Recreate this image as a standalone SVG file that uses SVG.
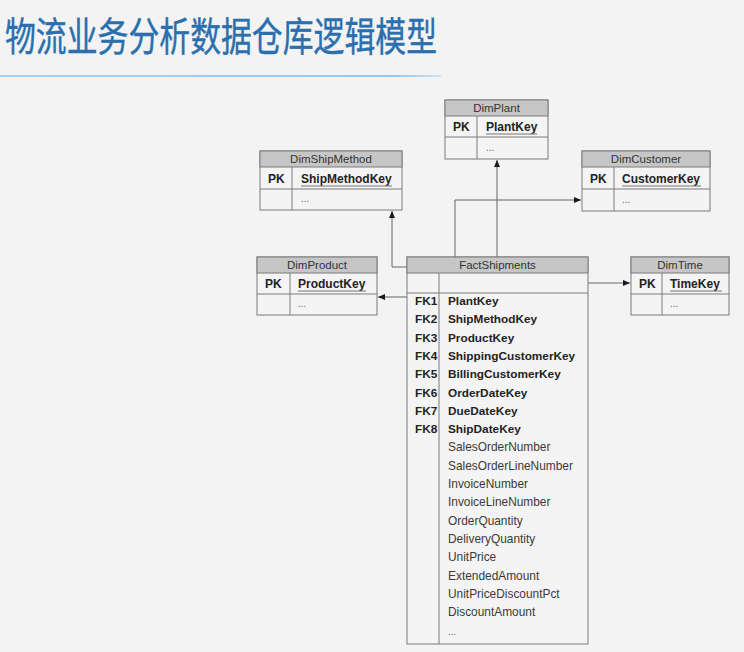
<svg xmlns="http://www.w3.org/2000/svg" width="744" height="652" viewBox="0 0 744 652">
<defs>
<linearGradient id="ul" x1="0" y1="0" x2="1" y2="0">
<stop offset="0" stop-color="#a9d0f0"/>
<stop offset="0.9" stop-color="#9ac6ec"/>
<stop offset="1" stop-color="#cfe3f5"/>
</linearGradient>
<marker id="arr" markerWidth="8" markerHeight="8" refX="7" refY="4" orient="auto" markerUnits="userSpaceOnUse">
<path d="M0,1 L7,4 L0,7 z" fill="#1a1a1a"/>
</marker>
</defs>
<style>
.box{fill:#f4f4f4;stroke:#7a7a7a;stroke-width:1}
.hdr{fill:#c6c6c6;stroke:#7a7a7a;stroke-width:1}
.ln{stroke:#7a7a7a;stroke-width:1;fill:none}
.ht{font-family:"Liberation Sans",Arial,sans-serif;font-size:11.5px;fill:#333;text-anchor:middle}
.pk{font-family:"Liberation Sans",Arial,sans-serif;font-size:12px;font-weight:bold;fill:#222}
.dots{font-family:"Liberation Sans",Arial,sans-serif;font-size:10px;fill:#666}
.fk{font-family:"Liberation Sans",Arial,sans-serif;font-size:11.8px;font-weight:bold;fill:#222}
.fd{font-family:"Liberation Sans",Arial,sans-serif;font-size:11.9px;fill:#3a3a3a}
.ul{stroke:#777;stroke-width:1}
.con{stroke:#666;stroke-width:1;fill:none}
</style>
<rect x="0" y="0" width="744" height="652" fill="#f3f3f3"/>
<g id="title">
<text x="5" y="51" font-family="'Noto Sans CJK SC',sans-serif" font-size="40" fill="#2a6fae" stroke="#2a6fae" stroke-width="0.4" textLength="432" lengthAdjust="spacingAndGlyphs">物流业务分析数据仓库逻辑模型</text>
<rect x="0" y="75" width="441" height="2" fill="url(#ul)"/>
</g>
<g id="connectors">
<path class="con" d="M497,257 L497,160" marker-end="url(#arr)"/>
<path class="con" d="M455,257 L455,200 L581,200" marker-end="url(#arr)"/>
<path class="con" d="M407,267 L392,267 L392,211" marker-end="url(#arr)"/>
<path class="con" d="M407,297 L378,297" marker-end="url(#arr)"/>
<path class="con" d="M588,283 L630,283" marker-end="url(#arr)"/>
</g>
<g id="DimPlant">
<rect class="box" x="445" y="100" width="103" height="59"/>
<rect class="hdr" x="445" y="100" width="103" height="16"/>
<line class="ln" x1="445" y1="137" x2="548" y2="137"/>
<line class="ln" x1="477" y1="116" x2="477" y2="159"/>
<text class="ht" x="496.5" y="112">DimPlant</text>
<text class="pk" x="453" y="131">PK</text>
<text class="pk" x="486" y="131">PlantKey</text>
<line class="ul" x1="486" y1="134" x2="537" y2="134"/>
<text class="dots" x="486" y="151">...</text>
</g>
<g id="DimShipMethod">
<rect class="box" x="260" y="151" width="142" height="59"/>
<rect class="hdr" x="260" y="151" width="142" height="16"/>
<line class="ln" x1="260" y1="189" x2="402" y2="189"/>
<line class="ln" x1="292" y1="167" x2="292" y2="210"/>
<text class="ht" x="331" y="163">DimShipMethod</text>
<text class="pk" x="268" y="183">PK</text>
<text class="pk" x="301" y="183">ShipMethodKey</text>
<line class="ul" x1="301" y1="186" x2="392" y2="186"/>
<text class="dots" x="301" y="202">...</text>
</g>
<g id="DimCustomer">
<rect class="box" x="582" y="151" width="128" height="60"/>
<rect class="hdr" x="582" y="151" width="128" height="16"/>
<line class="ln" x1="582" y1="189" x2="710" y2="189"/>
<line class="ln" x1="614" y1="167" x2="614" y2="211"/>
<text class="ht" x="646" y="163">DimCustomer</text>
<text class="pk" x="590" y="183">PK</text>
<text class="pk" x="622" y="183">CustomerKey</text>
<line class="ul" x1="622" y1="186" x2="701" y2="186"/>
<text class="dots" x="622" y="203">...</text>
</g>
<g id="DimProduct">
<rect class="box" x="257" y="257" width="120" height="58"/>
<rect class="hdr" x="257" y="257" width="120" height="16"/>
<line class="ln" x1="257" y1="294" x2="377" y2="294"/>
<line class="ln" x1="290" y1="273" x2="290" y2="315"/>
<text class="ht" x="317" y="269">DimProduct</text>
<text class="pk" x="265" y="288">PK</text>
<text class="pk" x="298" y="288">ProductKey</text>
<line class="ul" x1="298" y1="291" x2="366" y2="291"/>
<text class="dots" x="298" y="307">...</text>
</g>
<g id="DimTime">
<rect class="box" x="631" y="257" width="98" height="58"/>
<rect class="hdr" x="631" y="257" width="98" height="16"/>
<line class="ln" x1="631" y1="294" x2="729" y2="294"/>
<line class="ln" x1="662" y1="273" x2="662" y2="315"/>
<text class="ht" x="680" y="269">DimTime</text>
<text class="pk" x="639" y="288">PK</text>
<text class="pk" x="670" y="288">TimeKey</text>
<line class="ul" x1="670" y1="291" x2="722" y2="291"/>
<text class="dots" x="670" y="307">...</text>
</g>
<g id="FactShipments">
<rect class="box" x="407" y="257" width="181" height="387"/>
<rect class="hdr" x="407" y="257" width="181" height="16"/>
<line class="ln" x1="407" y1="293" x2="588" y2="293"/>
<line class="ln" x1="439" y1="273" x2="439" y2="644"/>
<text class="ht" x="497.5" y="269">FactShipments</text>
<text class="fk" x="415" y="305">FK1</text>
<text class="fk" x="448" y="305">PlantKey</text>
<text class="fk" x="415" y="323.3">FK2</text>
<text class="fk" x="448" y="323.3">ShipMethodKey</text>
<text class="fk" x="415" y="341.6">FK3</text>
<text class="fk" x="448" y="341.6">ProductKey</text>
<text class="fk" x="415" y="359.9">FK4</text>
<text class="fk" x="448" y="359.9">ShippingCustomerKey</text>
<text class="fk" x="415" y="378.2">FK5</text>
<text class="fk" x="448" y="378.2">BillingCustomerKey</text>
<text class="fk" x="415" y="396.5">FK6</text>
<text class="fk" x="448" y="396.5">OrderDateKey</text>
<text class="fk" x="415" y="414.8">FK7</text>
<text class="fk" x="448" y="414.8">DueDateKey</text>
<text class="fk" x="415" y="433.1">FK8</text>
<text class="fk" x="448" y="433.1">ShipDateKey</text>
<text class="fd" x="448" y="451.4">SalesOrderNumber</text>
<text class="fd" x="448" y="469.7">SalesOrderLineNumber</text>
<text class="fd" x="448" y="488">InvoiceNumber</text>
<text class="fd" x="448" y="506.3">InvoiceLineNumber</text>
<text class="fd" x="448" y="524.6">OrderQuantity</text>
<text class="fd" x="448" y="542.9">DeliveryQuantity</text>
<text class="fd" x="448" y="561.2">UnitPrice</text>
<text class="fd" x="448" y="579.5">ExtendedAmount</text>
<text class="fd" x="448" y="597.8">UnitPriceDiscountPct</text>
<text class="fd" x="448" y="616.1">DiscountAmount</text>
<text class="dots" x="448" y="635">...</text>
</g>
</svg>
